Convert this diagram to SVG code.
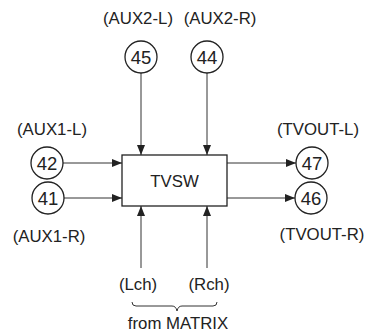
<svg xmlns="http://www.w3.org/2000/svg" width="368" height="335" viewBox="0 0 368 335">
<defs>
<style>
text{font-family:"Liberation Sans",Arial,sans-serif;font-size:16.8px;fill:#222;text-anchor:middle}
.n{font-size:18.5px}
.c{fill:#fff;stroke:#222;stroke-width:1.3}
.ln{stroke:#333;stroke-width:1;fill:none}
</style>
<marker id="ah" viewBox="0 0 10 8" refX="10" refY="4" markerWidth="10" markerHeight="8" markerUnits="userSpaceOnUse" orient="auto">
<path d="M0,0 L10,4 L0,8 Z" fill="#222"/>
</marker>
</defs>
<rect width="368" height="335" fill="#fff"/>
<g id="connectors">
<line class="ln" x1="141" y1="73" x2="141" y2="155" marker-end="url(#ah)"/>
<line class="ln" x1="207" y1="73" x2="207" y2="155" marker-end="url(#ah)"/>
<line class="ln" x1="63" y1="163" x2="122" y2="163" marker-end="url(#ah)"/>
<line class="ln" x1="64" y1="198" x2="122" y2="198" marker-end="url(#ah)"/>
<line class="ln" x1="227" y1="163" x2="296" y2="163" marker-end="url(#ah)"/>
<line class="ln" x1="227" y1="198" x2="295" y2="198" marker-end="url(#ah)"/>
<line class="ln" x1="141" y1="268" x2="141" y2="206" marker-end="url(#ah)"/>
<line class="ln" x1="207" y1="268" x2="207" y2="206" marker-end="url(#ah)"/>
<path class="ln" d="M132,302 Q132,306 136,306 L172,306 Q176,306 177,311 Q178,306 182,306 L213,306 Q217,306 217,302"/>
</g>
<g id="tvsw">
<rect x="122" y="155" width="105" height="51" fill="#fff" stroke="#222" stroke-width="1.3"/>
<text x="174.5" y="187">TVSW</text>
</g>
<g id="n45"><circle class="c" cx="141" cy="57" r="16"/><text class="n" x="141" y="64">45</text></g>
<g id="n44"><circle class="c" cx="207" cy="57" r="16"/><text class="n" x="207" y="64">44</text></g>
<g id="n42"><circle class="c" cx="47" cy="163" r="16"/><text class="n" x="47" y="170">42</text></g>
<g id="n41"><circle class="c" cx="48" cy="198" r="16"/><text class="n" x="48" y="205">41</text></g>
<g id="n47"><circle class="c" cx="312" cy="163" r="16"/><text class="n" x="312" y="170">47</text></g>
<g id="n46"><circle class="c" cx="311" cy="198" r="16"/><text class="n" x="311" y="205">46</text></g>
<g id="labels">
<text x="138" y="24">(AUX2-L)</text>
<text x="220" y="24">(AUX2-R)</text>
<text x="52" y="135">(AUX1-L)</text>
<text x="49" y="242">(AUX1-R)</text>
<text x="318" y="135">(TVOUT-L)</text>
<text x="322" y="240">(TVOUT-R)</text>
<text x="138" y="290">(Lch)</text>
<text x="209" y="290">(Rch)</text>
<text x="178" y="329">from MATRIX</text>
</g>
</svg>
